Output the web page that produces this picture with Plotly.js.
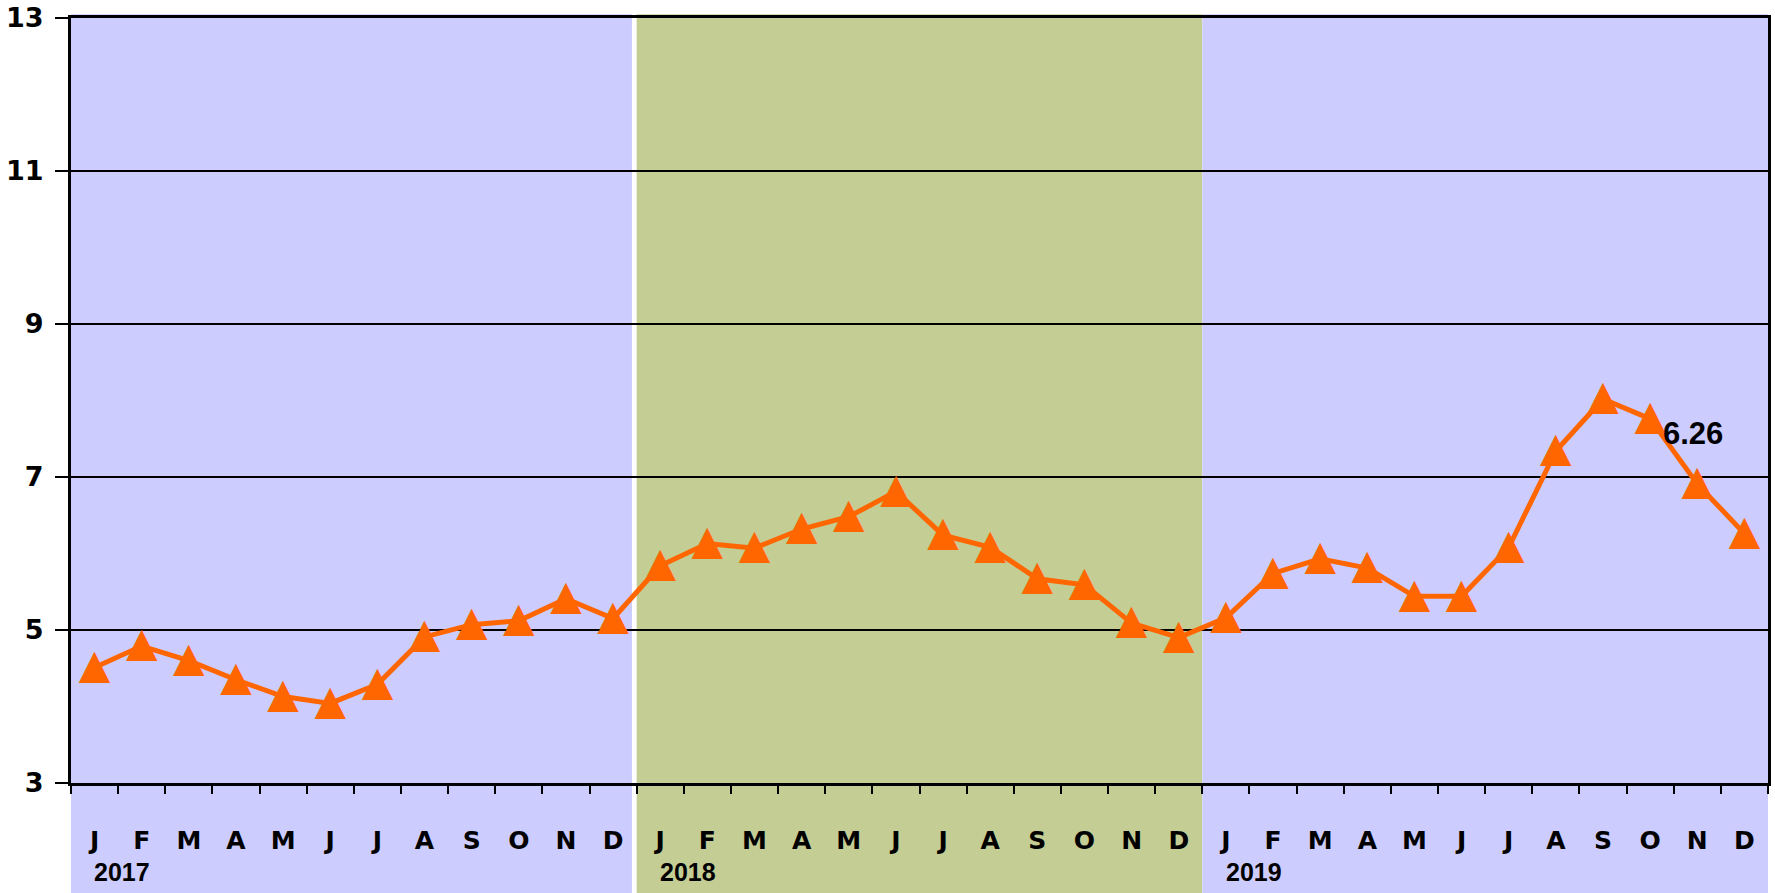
<!DOCTYPE html>
<html>
<head>
<meta charset="utf-8">
<script src="https://cdn.plot.ly/plotly-3.0.1.min.js"></script>
<style>
  html, body { margin: 0; padding: 0; background: #ffffff; }
  #chart { width: 1775px; height: 893px; }
</style>
</head>
<body>
<div id="chart"></div>
<script>
// ---- data ----
const years = ['2017', '2018', '2019'];
const monthLetters = ['J','F','M','A','M','J','J','A','S','O','N','D'];
const values2017 = [4.51, 4.79, 4.60, 4.35, 4.13, 4.04, 4.29, 4.91, 5.07, 5.12, 5.41, 5.15];
const values2018 = [5.84, 6.13, 6.07, 6.32, 6.48, 6.81, 6.24, 6.08, 5.67, 5.59, 5.09, 4.90];
const values2019 = [5.16, 5.74, 5.93, 5.81, 5.44, 5.44, 6.08, 7.34, 8.02, 7.76, 6.91, 6.26];
const yTicks = [3, 5, 7, 9, 11, 13];
const bandColors = ['#CCCCFF', '#C4CD94', '#CCCCFF'];

// ---- derived ----
const values = values2017.concat(values2018, values2019);
const n = values.length;
const idx = values.map((_, i) => i);
const labels = years.flatMap(() => monthLetters);
const boundaries = Array.from({length: n + 1}, (_, i) => i - 0.5);

const traces = [
  {
    x: idx, y: values, type: 'scatter', mode: 'lines',
    line: {color: '#FF6600', width: 5},
    hoverinfo: 'skip', showlegend: false
  },
  {
    x: idx, y: values, type: 'scatter', mode: 'text',
    text: values.map(() => '\u25B2'), textposition: 'middle center',
    textfont: {family: 'DejaVu Sans', size: 41, color: '#FF6600'},
    hoverinfo: 'skip', showlegend: false
  },
  {
    x: [0], y: [null], xaxis: 'x2', yaxis: 'y', type: 'scatter', mode: 'markers',
    hoverinfo: 'skip', showlegend: false
  }
];

const shapes = years.map((yr, i) => ({
  type: 'rect', xref: 'x', yref: 'paper', layer: 'below',
  x0: i * 12 - 0.5, x1: i * 12 + 11.5 - (i === 0 ? 0.1 : 0),
  y0: -0.16, y1: 1.005,
  fillcolor: bandColors[i], line: {width: 0}
}));

const annotations = years.map((yr, i) => ({
  text: yr, xref: 'x', yref: 'paper', x: i * 12 - 0.05, y: -0.116,
  xanchor: 'left', yanchor: 'middle', showarrow: false,
  font: {family: 'Liberation Sans, Arial, sans-serif', size: 25, color: '#000'}
}));
annotations.push({
  text: values[n - 1].toFixed(2), xref: 'x', yref: 'y', x: 33.9, y: 7.575,
  xanchor: 'center', yanchor: 'middle', showarrow: false,
  font: {family: 'Liberation Sans, Arial, sans-serif', size: 31, color: '#000'}
});
annotations.forEach(a => { a.font.weight = 'bold'; });

const layout = {
  width: 1775, height: 893,
  margin: {l: 71, r: 7, t: 18, b: 110},
  paper_bgcolor: '#ffffff',
  plot_bgcolor: 'rgba(0,0,0,0)',
  showlegend: false,
  xaxis: {
    range: [-0.5, n - 0.5],
    tickmode: 'array', tickvals: idx, ticktext: labels,
    ticks: '', showgrid: false, zeroline: false,
    showline: true, linecolor: '#000', linewidth: 3, mirror: true,
    ticklabelstandoff: 33,
    tickfont: {family: 'DejaVu Sans, sans-serif', size: 25, color: '#000', weight: 'bold'},
    fixedrange: true
  },
  xaxis2: {
    overlaying: 'x', anchor: 'y', side: 'bottom',
    range: [-0.5, n - 0.5],
    tickmode: 'array', tickvals: boundaries, ticktext: boundaries.map(() => ''),
    ticks: 'outside', ticklen: 10, tickwidth: 2, tickcolor: '#000',
    showgrid: false, zeroline: false, showline: false, fixedrange: true
  },
  yaxis: {
    range: [3, 13],
    tickmode: 'array', tickvals: yTicks,
    showgrid: true, gridcolor: '#000', gridwidth: 2,
    zeroline: false,
    showline: true, linecolor: '#000', linewidth: 3, mirror: true,
    ticks: 'outside', ticklen: 13, tickwidth: 2, tickcolor: '#000',
    ticklabelstandoff: 6,
    tickfont: {family: 'DejaVu Sans, sans-serif', size: 27, color: '#000', weight: 'bold'},
    fixedrange: true
  },
  shapes: shapes,
  annotations: annotations
};

Plotly.newPlot('chart', traces, layout, {displayModeBar: false, staticPlot: true});
</script>
</body>
</html>
